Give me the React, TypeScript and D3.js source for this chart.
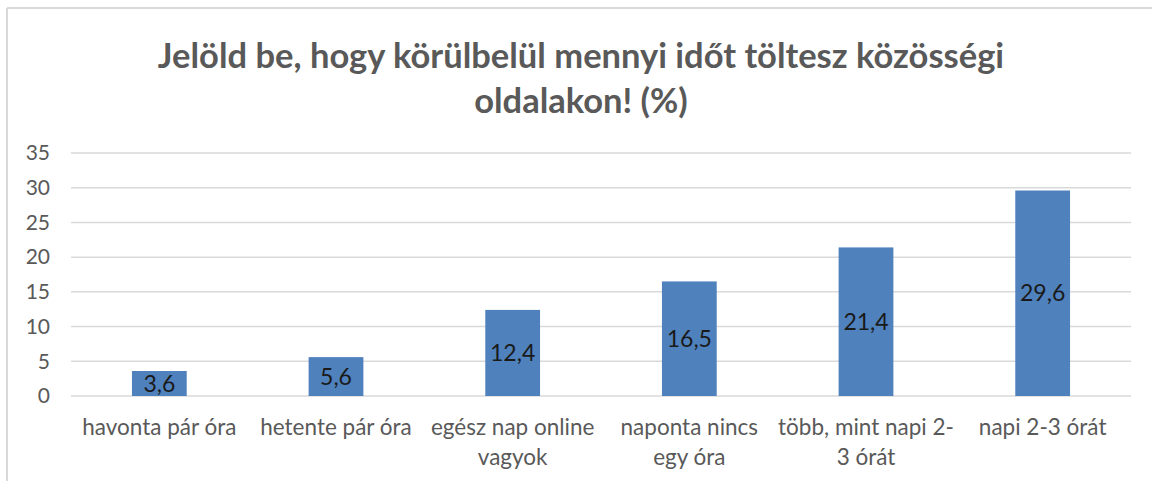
import React from 'react';
import * as d3 from 'd3';

const categories = [
    ['havonta pár óra'],
    ['hetente pár óra'],
    ['egész nap online', 'vagyok'],
    ['naponta nincs', 'egy óra'],
    ['több, mint napi 2-', '3 órát'],
    ['napi 2-3 órát']
];
const values = [3.6, 5.6, 12.4, 16.5, 21.4, 29.6];
const yTicks = [0, 5, 10, 15, 20, 25, 30, 35];
const titleLines = ['Jelöld be, hogy körülbelül mennyi időt töltesz közösségi', 'oldalakon! (%)'];

const width = 1152;
const height = 481;
const margin = {left: 71, right: 21, top: 153, bottom: 85};
const font = 'Lato, "Open Sans", sans-serif';

export default function App() {
    const xScale = d3.scaleBand<number>()
        .domain(values.map((_, i) => i))
        .range([margin.left, width - margin.right])
        .paddingInner(0.69)
        .paddingOuter(0.345);
    const yScale = d3.scaleLinear()
        .domain([0, 35])
        .range([height - margin.bottom, margin.top]);

    const fmt = (v: number) => v.toFixed(1).replace('.', ',');

    return (
        <svg width={width} height={height} style={{position: 'absolute', left: 0, top: 0, background: '#fff'}}>
            {/* frame */}
            <line x1={7} x2={7} y1={8} y2={height} stroke="#d9d9d9" strokeWidth={2} />
            <line x1={7} x2={width} y1={8} y2={8} stroke="#d9d9d9" strokeWidth={2} />

            {titleLines.map((t, i) => (
                <text key={i} x={581} y={68 + i * 45} textAnchor="middle" fontFamily={font}
                    fontWeight="bold" fontSize={34.5} fill="#595959">{t}</text>
            ))}

            {yTicks.map((t) => (
                <g key={t}>
                    <line x1={margin.left} x2={width - margin.right} y1={yScale(t)} y2={yScale(t)}
                        stroke="#d9d9d9" strokeWidth={1.5} />
                    <text x={50} y={yScale(t)} dy="0.35em" textAnchor="end" fontFamily={font}
                        fontSize={21} fill="#595959">{t}</text>
                </g>
            ))}

            {values.map((v, i) => {
                const x = xScale(i)!;
                const y0 = yScale(0);
                const y1 = yScale(v);
                return (
                    <g key={i}>
                        <rect x={x} y={y1} width={xScale.bandwidth()} height={y0 - y1} fill="#4f81bd" />
                        <text x={x + xScale.bandwidth() / 2} y={(y0 + y1) / 2} dy="0.35em" textAnchor="middle"
                            fontFamily={font} fontSize={23} fill="#1a1a1a">{fmt(v)}</text>
                    </g>
                );
            })}

            {categories.map((lines, i) => (
                <text key={i} x={xScale(i)! + xScale.bandwidth() / 2} y={427} textAnchor="middle"
                    fontFamily={font} fontSize={22.5} fill="#595959">
                    {lines.map((l, j) => (
                        <tspan key={j} x={xScale(i)! + xScale.bandwidth() / 2} dy={j === 0 ? '0.35em' : 30}>{l}</tspan>
                    ))}
                </text>
            ))}
        </svg>
    );
}
